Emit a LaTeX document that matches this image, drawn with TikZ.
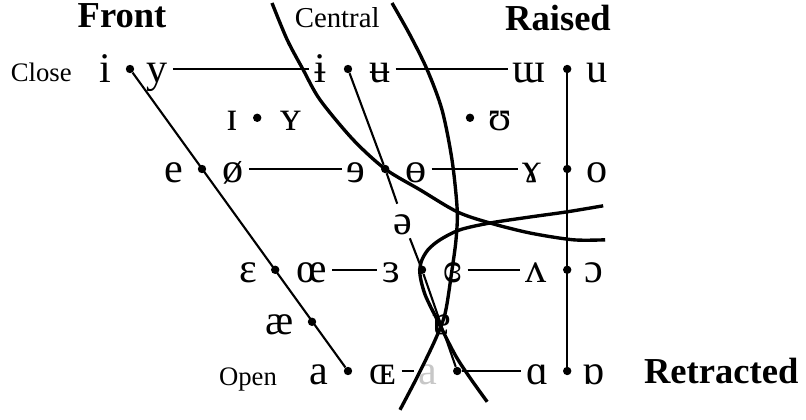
\documentclass[tikz,border=0pt]{standalone}
\usepackage{fontspec}
\setmainfont{Liberation Serif}
\tikzset{
  vowel/.style={font=\fontsize{30}{33}\selectfont,inner xsep=0.12cm,inner ysep=0.1cm,
    text height=18.5pt,text depth=0pt},
  dotnode/.style={circle,fill,inner sep=0pt,minimum size=0.21cm},
  thinline/.style={line width=1.5pt},
  curve/.style={line width=2.4pt},
  headlabel/.style={font=\bfseries\fontsize{26}{30}\selectfont,anchor=base},
  sidelabel/.style={font=\fontsize{19}{22}\selectfont,anchor=base}
}

\begin{document}
\begin{tikzpicture}
\useasboundingbox (0,0) rectangle (20.15,10.475);

\node[headlabel] (front) at (3.05,9.775) {Front};
\node[sidelabel,font=\fontsize{20.5}{24}\selectfont] (central) at (8.43,9.775) {Central};
\node[headlabel] (raised) at (13.95,9.70) {Raised};
\node[sidelabel] (close) at (1.03,8.43) {Close};
\node[sidelabel] (open) at (6.20,0.85) {Open};
\node[headlabel] (retracted) at (18.03,0.90) {Retracted};

\foreach \n/\x/\y in {d1f/3.25/8.75, d1c/8.70/8.75, d1r/14.18/8.75,
    d2f/6.43/7.53, d2r/11.75/7.53,
    d3f/5.05/6.25, d3c/9.63/6.25, d3r/14.18/6.25,
    d4f/6.88/3.73, d4c/10.55/3.73, d4r/14.18/3.73,
    d5f/7.80/2.43,
    d6f/8.70/1.20, d6c/11.43/1.20, d6r/14.18/1.20}
    \node[dotnode] (\n) at (\x,\y) {};

\node[vowel] (i) at (2.63,8.75) {i};
\node[vowel] (y) at (3.93,8.75) {y};
\node[vowel] (ibar) at (8.00,8.75) {ɨ};
\node[vowel] (ubar) at (9.50,8.75) {ʉ};
\node[vowel] (turnm) at (13.23,8.75) {ɯ};
\node[vowel] (u) at (14.93,8.75) {u};

\node[vowel] (smcapi) at (5.80,7.53) {ɪ};
\node[vowel] (smcapy) at (7.28,7.53) {ʏ};
\node[vowel] (upsilon) at (12.50,7.53) {ʊ};

\node[vowel] (e) at (4.35,6.25) {e};
\node[vowel] (oslash) at (5.83,6.25) {ø};
\node[vowel] (reve) at (8.90,6.25) {ɘ};
\node[vowel] (obar) at (10.40,6.25) {ɵ};
\node[vowel] (ramshorn) at (13.30,6.25) {ɤ};
\node[vowel] (o) at (14.93,6.25) {o};

\node[vowel] (schwa) at (10.08,4.95) {ə};

\node[vowel] (eps) at (6.20,3.73) {ɛ};
\node[vowel] (oe) at (7.80,3.73) {œ};
\node[vowel] (reveps) at (9.78,3.73) {ɜ};
\node[vowel] (cleps) at (11.33,3.73) {ɞ};
\node[vowel] (turnv) at (13.40,3.73) {ʌ};
\node[vowel] (openo) at (14.85,3.73) {ɔ};

\node[vowel] (ae) at (6.98,2.43) {æ};
\node[vowel] (turna) at (11.05,2.43) {ɐ};

\node[vowel] (a) at (7.98,1.20) {a};
\node[vowel] (smcapoe) at (9.58,1.20) {ɶ};
\node[vowel,text=black!22] (agray) at (10.70,1.20) {a};
\node[vowel] (scripta) at (13.43,1.20) {ɑ};
\node[vowel] (turnscripta) at (14.85,1.20) {ɒ};

\draw[thinline] (d1f) -- (d6f);
\draw[thinline] (d1c) -- (d3c) -- (schwa) -- (d4c) -- (d6c);
\draw[thinline] (d1r) -- (d6r);

\draw[thinline] (y) -- (ibar);
\draw[thinline] (ubar) -- (turnm);
\draw[thinline] (oslash) -- (reve);
\draw[thinline] (obar) -- (ramshorn);
\draw[thinline] (oe) -- (reveps);
\draw[thinline] (cleps) -- (turnv);
\draw[thinline] (smcapoe) -- (agray);
\draw[thinline] (d6c) -- (scripta);

\draw[curve] plot[smooth] coordinates {(6.80,10.40) (7.18,9.48) (7.58,8.73)
    (8.00,7.98) (8.83,6.98) (9.63,6.25) (10.50,5.73) (11.43,5.18) (12.25,4.90)
    (13.25,4.65) (14.33,4.48) (15.13,4.48)};
\draw[curve] plot[smooth] coordinates {(9.80,10.40) (10.25,9.60) (10.68,8.73)
    (11.05,7.73) (11.30,6.48) (11.43,5.23) (11.40,4.48) (11.30,3.73) (11.13,2.65)
    (10.88,1.98) (10.43,1.05) (10.00,0.23)};
\draw[curve] plot[smooth] coordinates {(15.08,5.33) (14.18,5.18) (13.25,5.05)
    (12.25,4.90) (11.50,4.73) (11.00,4.48) (10.70,4.23) (10.53,3.93) (10.50,3.60)
    (10.63,3.10) (10.93,2.48) (11.38,1.60) (11.75,1.03) (12.18,0.43)};
\end{tikzpicture}
\end{document}
